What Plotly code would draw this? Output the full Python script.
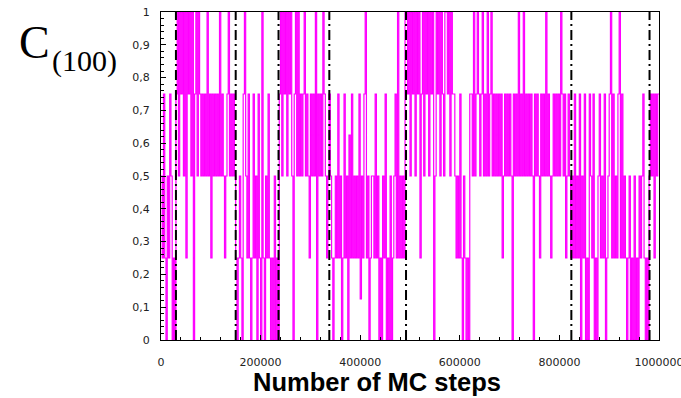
import numpy as np
import plotly.graph_objects as go

# Sampling interval of the recorded order parameter (MC steps)
STEP = 2500

# C(100) record, one character per sample, value = digit / 8
C100_SEGMENTS = [
    # 0 - 30000
    "42620426" "4020",
    # 30000 - 150000
    "68486848" "28684806" "8486"
    "46464846" "26464648" "46424684" "6464",
    # 150000 - 237500
    "20242068" "42620262" "406208" "20426202" "04020",
    # 237500 - 337500
    "68486848" "68406848" "46468464" "26464806" "46486424",
    # 337500 - 492500
    "642024" "26240262" "4052624" "24261426" "824024"
    "42624020" "42602040" "246" "28242428",
    # 492500 - 822500
    "86848684" "86826848" "68486804" "86848648" "868486"
    "64242620" "420206"
    "64846864" "68464846" "84646"
    "46462464" "64640646" "48464846" "46464064" "64264648"
    "46424646" "46486462" "464",
    # 822500 - 980000
    "24262426" "04260206" "42602046" "24260246" "82624268"
    "26242024" "02040204" "2462020",
    # 980000 - 1000000
    "46462646" "6",
]

# Steps at which the structure switches (dash-dot markers)
EVENT_STEPS = [30000, 150000, 236000, 338000, 492000, 824000, 981000]

X_TICKS = [0, 200000, 400000, 600000, 800000, 1000000]
X_TICK_TEXT = ["0", "200000", "400000", "600000", "800000", "1000000"]
Y_TICKS = [0, 0.1, 0.2, 0.3, 0.4, 0.5, 0.6, 0.7, 0.8, 0.9, 1.0]
Y_TICK_TEXT = ["0", "0,1", "0,2", "0,3", "0,4", "0,5", "0,6", "0,7", "0,8", "0,9", "1"]

codes = "".join(C100_SEGMENTS)
assert len(codes) == 401, len(codes)
c100 = np.array([int(ch) for ch in codes]) / 8.0
steps = np.arange(len(c100)) * STEP

fig = go.Figure()
fig.add_trace(go.Scatter(
    x=steps, y=c100, mode="lines",
    line=dict(color="#ff00ff", width=1.2, shape="hv"),
    hoverinfo="skip", showlegend=False,
))

for s in EVENT_STEPS:
    fig.add_shape(
        type="line", xref="x", yref="y", x0=s, x1=s, y0=0, y1=1,
        line=dict(color="black", width=2, dash="10px,4px,2px,4px"),
        layer="above",
    )

tick_font = dict(family="DejaVu Sans", size=11, color="#222")

fig.update_xaxes(
    range=[0, 1000000], tickmode="array", tickvals=X_TICKS, ticktext=X_TICK_TEXT,
    ticks="inside", ticklen=5, tickcolor="black",
    minor=dict(dtick=40000, ticks="inside", ticklen=3, tickcolor="black"),
    showline=True, linecolor="black", linewidth=1, mirror=True,
    showgrid=False, zeroline=False, tickfont=tick_font, ticklabelstandoff=12,
    ticklabeloverflow="allow", automargin=False,
)
fig.update_yaxes(
    range=[0, 1], tickmode="array", tickvals=Y_TICKS, ticktext=Y_TICK_TEXT,
    ticks="inside", ticklen=5, tickcolor="black",
    minor=dict(dtick=0.02, ticks="inside", ticklen=3, tickcolor="black"),
    showline=True, linecolor="black", linewidth=1, mirror=True,
    showgrid=False, zeroline=False, tickfont=tick_font, ticklabelstandoff=8,
    automargin=False,
)

fig.add_annotation(
    text="<b>Number of MC steps</b>", xref="paper", yref="paper",
    x=0.434, y=-0.08, xanchor="center", yanchor="top", showarrow=False,
    font=dict(family="Liberation Sans", size=25.5, color="black"),
)
fig.add_annotation(
    text="C", xref="paper", yref="paper", x=-0.29, y=0.99,
    xanchor="left", yanchor="top", showarrow=False,
    font=dict(family="Liberation Serif", size=46, color="black"),
)
fig.add_annotation(
    text="(100)", xref="paper", yref="paper", x=-0.222, y=0.91,
    xanchor="left", yanchor="top", showarrow=False,
    font=dict(family="Liberation Serif", size=30, color="black"),
)

fig.update_layout(
    width=681, height=398,
    margin=dict(l=161, r=22, t=12, b=58, autoexpand=False),
    paper_bgcolor="white", plot_bgcolor="white",
)

fig.write_html("out.html")
